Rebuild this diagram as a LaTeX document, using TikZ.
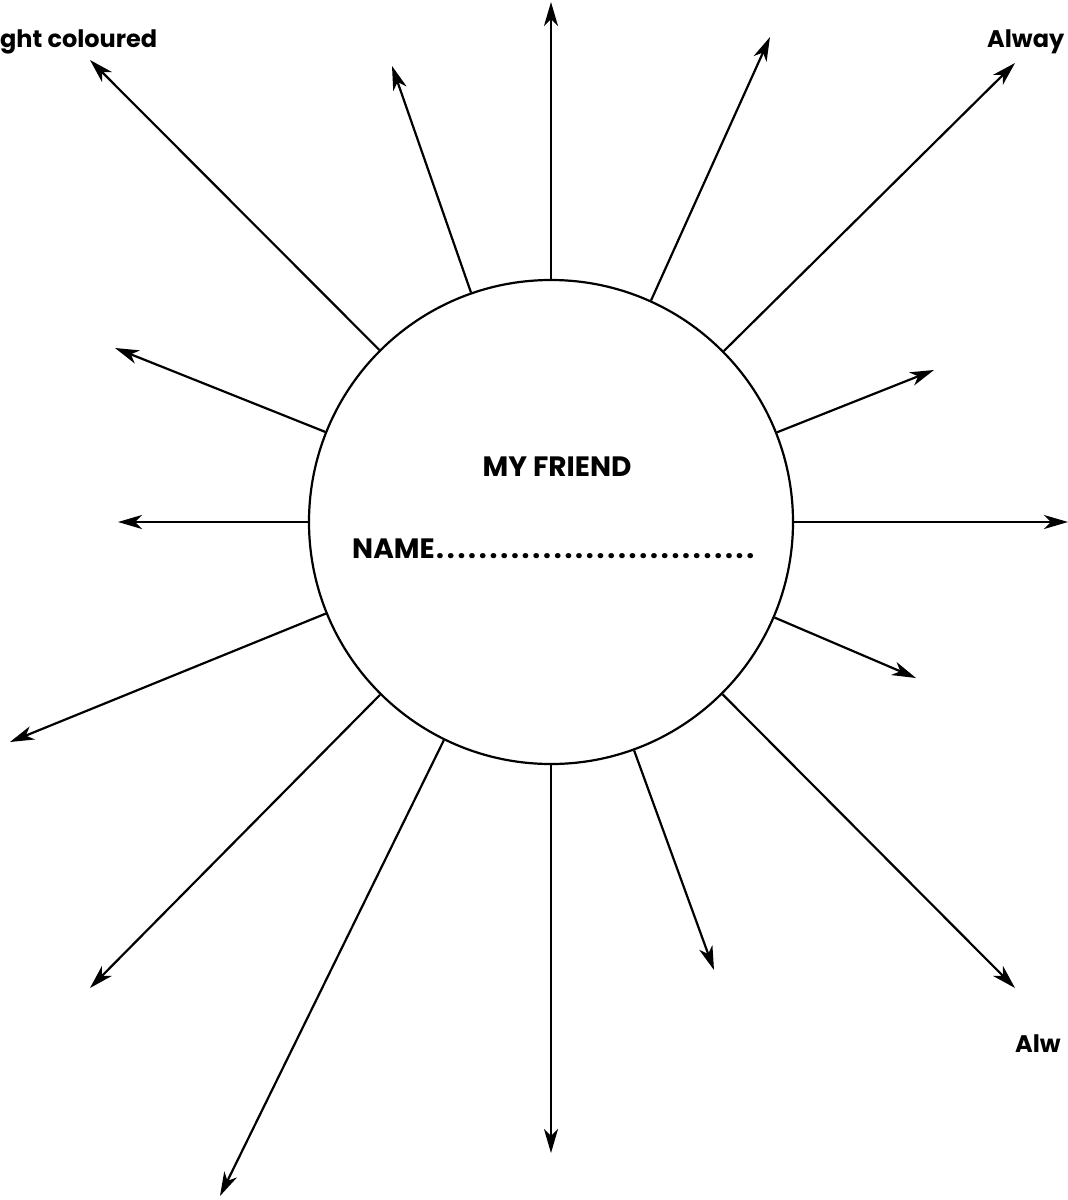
\documentclass[tikz,border=0pt]{standalone}
\usepackage{fontspec}
\setmainfont{Poppins}
\usetikzlibrary{arrows.meta}
\tikzset{
  ray/.style={line width=2.2pt,-{Stealth[length=24pt,width=14pt,inset=7pt]}},
  lbl/.style={font=\fontsize{28}{30}\selectfont\bfseries,inner sep=0pt},
  clbl/.style={font=\fontsize{24}{26}\selectfont\bfseries,inner sep=0pt},
  bigcirc/.style={circle,draw,line width=2.2pt,minimum size=484pt,inner sep=0pt}
}
\newcommand{\dotrow}[2]{\hbox to #1{\leaders\hbox to #2{\hss.\hss}\hfill}}
\begin{document}
\begin{tikzpicture}[x=1pt,y=-1pt]
\useasboundingbox (0,0) rectangle (1068,1200);
\node[bigcirc] (c) at (551,522) {};
\coordinate (t1) at (551,2);
\coordinate (t2) at (90,60);
\coordinate (t3) at (392,66);
\coordinate (t4) at (770,37);
\coordinate (t5) at (1015,63);
\coordinate (t6) at (934,370);
\coordinate (t7) at (1068,522);
\coordinate (t8) at (916,678);
\coordinate (t9) at (1015,988);
\coordinate (t10) at (714,970);
\coordinate (t11) at (551,1153);
\coordinate (t12) at (220,1196);
\coordinate (t13) at (90,988);
\coordinate (t14) at (10,742);
\coordinate (t15) at (118,522);
\coordinate (t16) at (115,348);
\foreach \i in {1,...,16} {\draw[ray] (c) -- (t\i);}
\node[lbl,anchor=base] (mf) at (557,476) {MY FRIEND};
\node[lbl,anchor=base west] (nm) at (352,558) {NAME\dotrow{322pt}{10.7pt}};
\node[clbl,anchor=base west] (l1) at (0,47) {ght coloured};
\node[clbl,anchor=base west] (l2) at (987,47) {Alway};
\node[clbl,anchor=base west] (l3) at (1015,1052) {Alw};
\end{tikzpicture}
\end{document}
